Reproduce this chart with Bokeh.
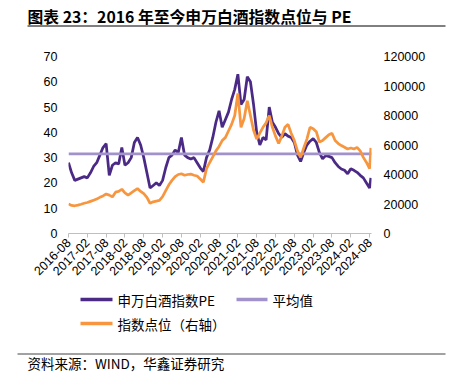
from bokeh.plotting import figure
from bokeh.models import Range1d, LinearAxis, FixedTicker, NumeralTickFormatter
from bokeh.layouts import column
from bokeh.core.properties import value
from bokeh.embed import file_html
from bokeh.resources import INLINE
import math

# ---------------- data ----------------
months = list(range(97)) + [96.4]   # months since 2016-08
pe = [28, 24, 21, 21.5, 22, 22.5, 22, 24, 26.5, 28,
      31, 34, 35.5, 23, 27, 28, 27.5, 34, 27, 28,
      30, 36, 38, 35, 30, 24, 18, 19, 20, 19,
      21, 26, 30, 31, 33, 32, 38, 31, 30, 29.5,
      30, 28, 26, 24.5, 30, 33, 38, 44, 48.5, 42,
      45, 48, 53, 57, 63, 51, 53, 62, 60, 51,
      40, 35, 38, 37, 50, 44, 42, 39.5, 38, 39.5,
      38.5, 38, 36, 31, 28.5, 32, 35, 36.5, 37.5, 36,
      32, 29.5, 30.8, 30.5, 30, 28, 26.5, 25.5, 25, 23.6,
      25.6, 25, 24.2, 23, 22, 20, 18, 22]
index_pts = [20000, 19000, 18800, 19200, 19800, 20500, 21000, 21800, 22600, 23400,
             24500, 25500, 26800, 26000, 24800, 28000, 28500, 30000, 27500, 26000,
             27500, 29000, 30500, 28500, 27000, 24500, 20500, 21500, 22000, 22500,
             25000, 29000, 33000, 36000, 38500, 40000, 40500, 39500, 40000, 40300,
             39500, 39000, 37000, 34800, 44000, 48000, 52000, 56000, 59000, 63000,
             65000, 69500, 74000, 80000, 95000, 72000, 78000, 90000, 80000, 70000,
             64000, 68000, 72000, 75000, 80000, 72000, 66000, 61000, 66000, 72000,
             74000, 68000, 63000, 56000, 51600, 58000, 64000, 72000, 71000, 69000,
             62000, 63000, 65000, 67000, 68000, 63000, 61000, 59600, 58500, 57300,
             58000, 57300, 58400, 56000, 51600, 48200, 44000, 58000]
pe_mean = 31.5
tick_months = [0, 6, 12, 18, 24, 30, 36, 42, 48, 54, 60, 66, 72, 78, 84, 90, 96]
tick_labels = ["2016-08", "2017-02", "2017-08", "2018-02", "2018-08", "2019-02",
               "2019-08", "2020-02", "2020-08", "2021-02", "2021-08", "2022-02",
               "2022-08", "2023-02", "2023-08", "2024-02", "2024-08"]
left_ticks = [0, 10, 20, 30, 40, 50, 60, 70]
right_ticks = [0, 20000, 40000, 60000, 80000, 100000, 120000]

title_text = "图表 23：2016 年至今申万白酒指数点位与 PE"
source_text = "资料来源：WIND，华鑫证券研究"
name_pe = "申万白酒指数PE"
name_mean = "平均值"
name_idx = "指数点位（右轴）"

# ---------------- style ----------------
DARK = "#4B2A86"
LIGHT = "#A292CC"
ORANGE = "#F7963F"
LAT = "Liberation Sans"
CJK = "Noto Sans CJK SC"
W = 456
TOP_H = 30          # title strip
MAIN_H = 258        # chart strip (canvas y 30..288)
BOT_H = 377 - TOP_H - MAIN_H
FL, FR = 68, 371    # frame left/right on canvas
FT, FB = 56, 233    # frame top/bottom on canvas


def strip(h):
    f = figure(width=W, height=h, output_backend="svg", toolbar_location=None,
               x_range=Range1d(0, W), y_range=Range1d(h, 0),
               x_axis_type=None, y_axis_type=None,
               min_border=0, min_border_left=0, min_border_right=0,
               min_border_top=0, min_border_bottom=0, frame_align=False)
    f.outline_line_color = None
    f.grid.grid_line_color = None
    f.background_fill_color = "white"
    f.border_fill_color = "white"
    return f


# ---------- title strip ----------
top = strip(TOP_H)
top.text(x=[27], y=[15.5], text=[title_text], text_font=value(CJK),
         text_font_size="15.8px", text_font_style="bold", text_baseline="middle",
         text_color="#000000")
top.segment(x0=[27], y0=[25.5], x1=[445], y1=[25.5], line_color="#000000", line_width=1)

# ---------- main chart ----------
p = figure(width=W, height=MAIN_H, output_backend="svg", toolbar_location=None,
           x_range=Range1d(0, 96.6), y_range=Range1d(0, 70),
           min_border_left=FL, min_border_right=W - FR,
           min_border_top=FT - TOP_H, min_border_bottom=TOP_H + MAIN_H - FB,
           frame_align=False)
p.outline_line_color = None
p.grid.grid_line_color = None
p.background_fill_color = "white"
p.border_fill_color = "white"
p.extra_y_ranges = {"right": Range1d(0, 120000)}

xa = p.xaxis[0]
xa.ticker = FixedTicker(ticks=tick_months)
xa.major_label_overrides = {m: l for m, l in zip(tick_months, tick_labels)}
xa.major_label_orientation = math.pi / 4
xa.axis_line_color = "#BFBFBF"
xa.major_tick_line_color = "#BFBFBF"
xa.major_tick_out = 4
xa.major_tick_in = 0
xa.minor_tick_line_color = None
xa.major_label_text_font = LAT
xa.major_label_text_font_size = "12.5px"
xa.major_label_text_color = "#000000"
xa.major_label_standoff = 3

ya = p.yaxis[0]
ya.ticker = FixedTicker(ticks=left_ticks)
ya.axis_line_color = None
ya.major_tick_line_color = None
ya.minor_tick_line_color = None
ya.major_tick_out = 0
ya.major_label_standoff = 11
ya.major_label_text_font = LAT
ya.major_label_text_font_size = "12.5px"
ya.major_label_text_color = "#000000"

ra = LinearAxis(y_range_name="right", ticker=FixedTicker(ticks=right_ticks),
                formatter=NumeralTickFormatter(format="0"))
ra.axis_line_color = None
ra.major_tick_line_color = None
ra.minor_tick_line_color = None
ra.major_tick_out = 0
ra.major_label_standoff = 12
ra.major_label_text_font = LAT
ra.major_label_text_font_size = "12.5px"
ra.major_label_text_color = "#000000"
p.add_layout(ra, "right")

p.line(months, pe, line_color=DARK, line_width=2.75)
p.line([0, 96.6], [pe_mean, pe_mean], line_color=LIGHT, line_width=2.75)
p.line(months, index_pts, y_range_name="right", line_color=ORANGE, line_width=2.75)

# ---------- legend + source strip ----------
y0 = TOP_H + MAIN_H
bot = strip(BOT_H)
bot.segment(x0=[80, 236, 80], y0=[299 - y0, 299 - y0, 323 - y0],
            x1=[112, 267, 112], y1=[299 - y0, 299 - y0, 323 - y0],
            line_color=[DARK, LIGHT, ORANGE], line_width=3.5)
bot.text(x=[117, 272, 117], y=[299 - y0, 299 - y0, 323 - y0],
         text=[name_pe, name_mean, name_idx], text_font=value(CJK),
         text_font_size="13.5px", text_baseline="middle", text_color="#000000")
bot.segment(x0=[17], y0=[353.5 - y0], x1=[445], y1=[353.5 - y0],
            line_color="#444444", line_width=1)
bot.text(x=[27], y=[362 - y0], text=[source_text], text_font=value(CJK),
         text_font_size="13.5px", text_baseline="middle", text_color="#000000")

layout = column(top, p, bot, spacing=0)
open("out.html", "w").write(file_html(layout, INLINE))
